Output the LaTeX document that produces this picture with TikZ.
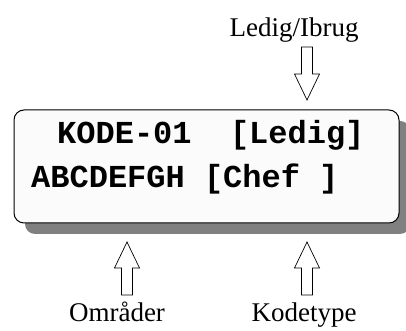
\documentclass[tikz,border=0pt]{standalone}
\usepackage{fontspec}
\setmainfont{Liberation Serif}
\setmonofont{Liberation Mono}
\usetikzlibrary{shadows}
\definecolor{shadowgray}{HTML}{808080}
\definecolor{screenwhite}{HTML}{FBFBFB}
\tikzset{
  pics/pointer/.style={hollowarrow},
  hollowarrow/.pic={
    \draw[black,line width=0.7pt,fill=white] (-5.5,0)--(-5.5,27)--(-12.5,27)--(0,53)--(12.5,27)--(5.5,27)--(5.5,0)--cycle;
  },
  screen/.style={draw=black,line width=1pt,fill=screenwhite,rounded corners=10pt,
    minimum width=385pt,minimum height=113pt,
    drop shadow={shadow xshift=11pt,shadow yshift=-11pt,fill=shadowgray,opacity=1}},
  lcd/.style={anchor=base west,inner sep=0pt,font=\fontsize{32}{36}\selectfont\ttfamily\bfseries},
  lbl/.style={anchor=base,inner sep=0pt,font=\fontsize{27}{30}\selectfont}
}

\begin{document}
\begin{tikzpicture}[x=1pt,y=1pt]
    \clip (0,0) rectangle (406,331);

    % Display with drop shadow
    \node[screen] (display) at (206.5,164.5) {};
    \node[lcd] (line1) at (57,187) {KODE-01\ \ [Ledig]};
    \node[lcd] (line2) at (31,143) {ABCDEFGH [Chef\ ]};

    % Arrows
    \pic[rotate=180] at (307,284) {hollowarrow};
    \pic at (127,36) {hollowarrow};
    \pic at (307,36) {hollowarrow};

    % Labels
    \node[lbl] (status) at (294,294) {Ledig/Ibrug};
    \node[lbl] (areas) at (117,9) {Områder};
    \node[lbl] (codetype) at (304,9) {Kodetype};
\end{tikzpicture}
\end{document}
